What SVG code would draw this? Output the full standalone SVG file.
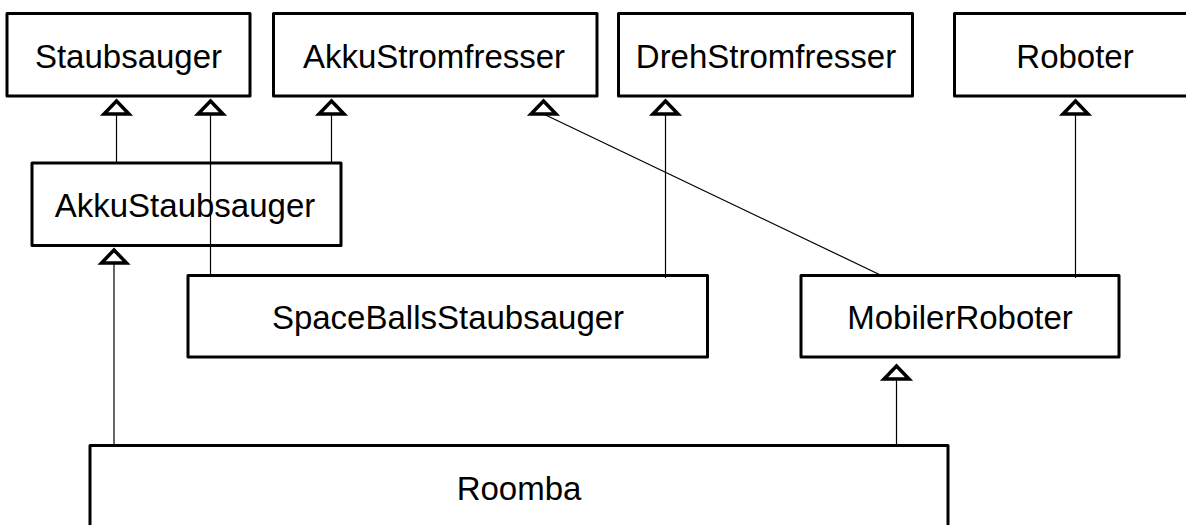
<svg xmlns="http://www.w3.org/2000/svg" xmlns:xlink="http://www.w3.org/1999/xlink" width="1186" height="525" viewBox="0 0 1186 525">
<style>
.box{fill:#fff;stroke:#000;stroke-width:3;stroke-linejoin:round}
.lbl{font-family:"Liberation Sans",Arial,sans-serif;font-size:33px;fill:#000;text-anchor:middle}
.edge{stroke:#000;stroke-width:1.2;fill:none}
.tri{fill:#fff;stroke:#000;stroke-width:3.5;stroke-linejoin:miter}
</style>
<defs>
<path id="gen" class="tri" d="M0,0 L12.5,13 L-12.5,13 Z"/>
</defs>
<rect width="1186" height="525" fill="#fff"/>
<g id="Staubsauger">
<rect class="box" x="7" y="13.5" width="243" height="82.5"/>
<text class="lbl" x="128.5" y="68">Staubsauger</text>
</g>
<g id="AkkuStromfresser">
<rect class="box" x="273.5" y="13.5" width="323.5" height="82.5"/>
<text class="lbl" x="434" y="68">AkkuStromfresser</text>
</g>
<g id="DrehStromfresser">
<rect class="box" x="618.5" y="13.5" width="294" height="82.5"/>
<text class="lbl" x="766" y="68">DrehStromfresser</text>
</g>
<g id="Roboter">
<rect class="box" x="954.5" y="13.5" width="243.5" height="82.5"/>
<text class="lbl" x="1075" y="68">Roboter</text>
</g>
<g id="AkkuStaubsauger">
<rect class="box" x="32" y="163" width="309" height="82.5"/>
<text class="lbl" x="185" y="217">AkkuStaubsauger</text>
</g>
<g id="SpaceBallsStaubsauger">
<rect class="box" x="188" y="275.5" width="519.5" height="81.5"/>
<text class="lbl" x="448" y="329">SpaceBallsStaubsauger</text>
</g>
<g id="MobilerRoboter">
<rect class="box" x="801" y="275.5" width="318" height="81.5"/>
<text class="lbl" x="960" y="329">MobilerRoboter</text>
</g>
<g id="Roomba">
<rect class="box" x="90" y="445.5" width="858" height="100"/>
<text class="lbl" x="519" y="500">Roomba</text>
</g>
<g id="connectors">
<line class="edge" x1="116.5" y1="163" x2="116.5" y2="114"/>
<line class="edge" x1="210.5" y1="276" x2="210.5" y2="114"/>
<line class="edge" x1="331.5" y1="163" x2="331.5" y2="114"/>
<line class="edge" x1="881.5" y1="275.5" x2="543.5" y2="114"/>
<line class="edge" x1="665.5" y1="278" x2="665.5" y2="114"/>
<line class="edge" x1="1075.5" y1="278" x2="1075.5" y2="114"/>
<line class="edge" x1="114" y1="445.5" x2="114" y2="262"/>
<line class="edge" x1="896.5" y1="445.5" x2="896.5" y2="378"/>
<use xlink:href="#gen" x="116.5" y="101"/>
<use xlink:href="#gen" x="210.5" y="101"/>
<use xlink:href="#gen" x="331.5" y="101"/>
<use xlink:href="#gen" x="543.5" y="101"/>
<use xlink:href="#gen" x="665.5" y="101"/>
<use xlink:href="#gen" x="1075.5" y="101"/>
<use xlink:href="#gen" x="114" y="250"/>
<use xlink:href="#gen" x="896.5" y="366"/>
</g>
</svg>
